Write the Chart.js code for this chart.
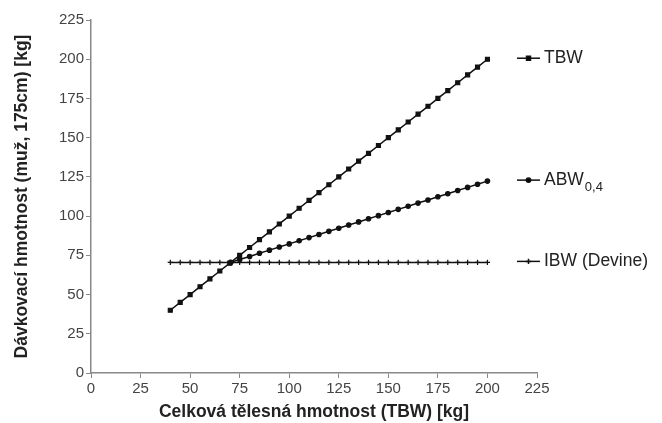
<!DOCTYPE html>
<html>
<head>
<meta charset="utf-8">
<script src="https://cdn.jsdelivr.net/npm/chart.js@4.4.1/dist/chart.umd.min.js"></script>
<style>
  html, body { margin: 0; padding: 0; background: #fff; }
  #wrap { width: 662px; height: 423px; }
</style>
</head>
<body>
<div id="wrap"><canvas id="chart" width="662" height="423"></canvas></div>
<script>
// TBW (kg) on the x axis
var tbwX = [40, 45, 50, 55, 60, 65, 70, 75, 80, 85, 90, 95, 100, 105, 110, 115, 120,
            125, 130, 135, 140, 145, 150, 155, 160, 165, 170, 175, 180, 185, 190, 195, 200];
// dosing weight
var tbwY = [40, 45, 50, 55, 60, 65, 70, 75, 80, 85, 90, 95, 100, 105, 110, 115, 120,
            125, 130, 135, 140, 145, 150, 155, 160, 165, 170, 175, 180, 185, 190, 195, 200];
var abwX = [70.5, 75, 80, 85, 90, 95, 100, 105, 110, 115, 120, 125, 130, 135, 140, 145,
            150, 155, 160, 165, 170, 175, 180, 185, 190, 195, 200];
var abwY = [70.5, 72.3, 74.3, 76.3, 78.3, 80.3, 82.3, 84.3, 86.3, 88.3, 90.3, 92.3, 94.3,
            96.3, 98.3, 100.3, 102.3, 104.3, 106.3, 108.3, 110.3, 112.3, 114.3, 116.3,
            118.3, 120.3, 122.3];
var ibwY = 70.5;
var axisTicks = [0, 25, 50, 75, 100, 125, 150, 175, 200, 225];
var xTitle = 'Celková tělesná hmotnost (TBW) [kg]';
var yTitle = 'Dávkovací hmotnost (muž, 175cm) [kg]';

function pts(xs, ys) {
  return xs.map(function (x, i) { return { x: x, y: Array.isArray(ys) ? ys[i] : ys }; });
}

const ctx = document.getElementById('chart').getContext('2d');
const FONT = "'Liberation Sans', Arial, sans-serif";

// labels at the right end of each line, like the original legend
var endLabels = {
  id: 'endLabels',
  afterDraw: function (chart) {
    var c = chart.ctx;
    chart.data.datasets.forEach(function (ds, i) {
      var meta = chart.getDatasetMeta(i);
      var last = meta.data[meta.data.length - 1];
      var y = last.y - 1;
      var x0 = 517, x1 = 540;
      c.save();
      c.strokeStyle = '#111';
      c.lineWidth = 1.5;
      c.beginPath(); c.moveTo(x0, y); c.lineTo(x1, y); c.stroke();
      Chart.helpers.drawPoint(c, {
        pointStyle: ds.pointStyle, radius: ds.pointRadius, borderWidth: 1.2
      }, (x0 + x1) / 2, y);
      c.fillStyle = '#222';
      c.textBaseline = 'middle';
      c.font = '17.5px ' + FONT;
      c.fillText(ds.label, 544, y);
      if (ds.sub) {
        var w = c.measureText(ds.label).width;
        c.font = '13px ' + FONT;
        c.fillText(ds.sub, 544 + w + 1, y + 7);
      }
      c.restore();
    });
  }
};

function pointStyleOpts(style, r) {
  return { pointStyle: style, pointRadius: r, pointHoverRadius: r,
           pointBackgroundColor: '#111', pointBorderColor: '#111', pointBorderWidth: 1.2 };
}

new Chart(ctx, {
  type: 'scatter',
  data: {
    datasets: [
      Object.assign({ label: 'TBW', data: pts(tbwX, tbwY), showLine: true,
        borderColor: '#111', borderWidth: 1.5 }, pointStyleOpts('rect', 2.8)),
      Object.assign({ label: 'ABW', sub: '0,4', data: pts(abwX, abwY), showLine: true,
        borderColor: '#111', borderWidth: 1.5 }, pointStyleOpts('circle', 2.2)),
      Object.assign({ label: 'IBW (Devine)', data: pts(tbwX, ibwY), showLine: true,
        borderColor: '#111', borderWidth: 1.5 }, pointStyleOpts('cross', 2.6))
    ]
  },
  options: {
    responsive: false,
    animation: false,
    layout: { padding: { top: 20, right: 125, left: 0, bottom: 0 } },
    plugins: { legend: { display: false }, tooltip: { enabled: false } },
    scales: {
      x: {
        type: 'linear', min: 0, max: 225,
        afterBuildTicks: function (s) { s.ticks = axisTicks.map(function (v) { return { value: v }; }); },
        afterFit: function (s) { s.height = 50; },
        grid: { drawOnChartArea: false, drawTicks: true, tickLength: 5, color: '#888', lineWidth: 1 },
        border: { color: '#888', width: 1.5 },
        ticks: { color: '#444', font: { family: FONT, size: 15 }, padding: 2, maxRotation: 0 },
        title: { display: true, text: xTitle, color: '#222',
                 font: { family: FONT, size: 17.5, weight: 'bold' }, padding: { top: 0, bottom: 0 } }
      },
      y: {
        type: 'linear', min: 0, max: 225,
        afterBuildTicks: function (s) { s.ticks = axisTicks.map(function (v) { return { value: v }; }); },
        afterFit: function (s) { s.width = 91; },
        grid: { drawOnChartArea: false, drawTicks: true, tickLength: 5, color: '#888', lineWidth: 1 },
        border: { color: '#888', width: 1.5 },
        ticks: { color: '#444', font: { family: FONT, size: 15 }, padding: 2 },
        title: { display: true, text: yTitle, color: '#222',
                 font: { family: FONT, size: 17.5, weight: 'bold' }, padding: { top: 12, bottom: 0 } }
      }
    }
  },
  plugins: [endLabels]
});
</script>
</body>
</html>
